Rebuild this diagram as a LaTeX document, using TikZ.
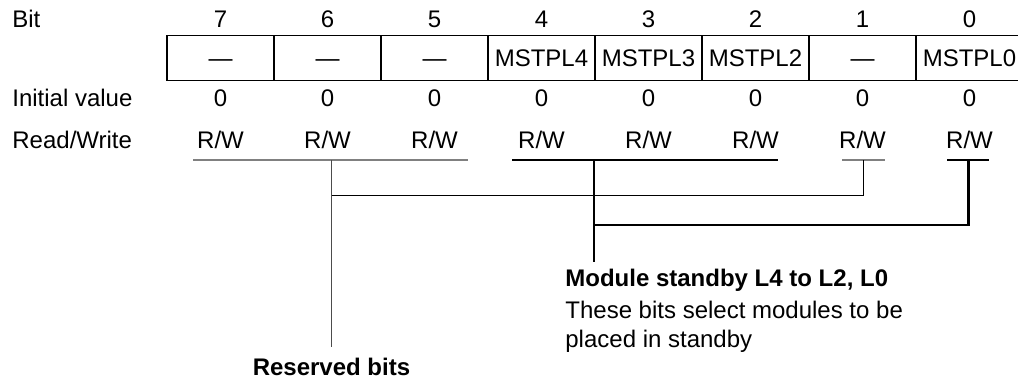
\documentclass[tikz,border=0pt]{standalone}
\usepackage{fontspec}
\setmainfont{Liberation Sans}
\usetikzlibrary{positioning}

\begin{document}
\begin{tikzpicture}[
		x=0.5pt, y=-0.5pt,
		font=\fontsize{12}{14.5}\selectfont,
		cell/.style={draw, line width=0.7pt, minimum width=53.5pt, minimum height=22.5pt,
			inner sep=0pt, outer sep=0pt, text height=8.6pt, text depth=0pt},
		lbl/.style={inner sep=0pt, anchor=base},
		rowlbl/.style={inner sep=0pt, anchor=base west},
		ulgray/.style={draw=black!50, line width=0.8pt},
		ulthick/.style={line width=1.3pt},
		lnthin/.style={line width=0.5pt},
	]
		\clip (0,0) rectangle (1018,380);

		% row baselines
		\coordinate (rowbit) at (12,27);
		\coordinate (rowinit) at (12,106);
		\coordinate (rowrw) at (12,148);

		% row labels
		\node[rowlbl] (lbit) at (rowbit) {Bit};
		\node[rowlbl] (linit) at (rowinit) {Initial value};
		\node[rowlbl] (lrw) at (rowrw) {Read/Write};

		% register cells
		\node[cell] (c7) at (220.5,57.75) {---};
		\node[cell, right=0pt of c7] (c6) {---};
		\node[cell, right=0pt of c6] (c5) {---};
		\node[cell, right=0pt of c5] (c4) {MSTPL4};
		\node[cell, right=0pt of c4] (c3) {MSTPL3};
		\node[cell, right=0pt of c3] (c2) {MSTPL2};
		\node[cell, right=0pt of c2] (c1) {---};
		\node[cell, right=0pt of c1] (c0) {MSTPL0};

		% bit numbers
		\node[lbl] (b7) at (c7 |- rowbit) {7};
		\node[lbl] (b6) at (c6 |- rowbit) {6};
		\node[lbl] (b5) at (c5 |- rowbit) {5};
		\node[lbl] (b4) at (c4 |- rowbit) {4};
		\node[lbl] (b3) at (c3 |- rowbit) {3};
		\node[lbl] (b2) at (c2 |- rowbit) {2};
		\node[lbl] (b1) at (c1 |- rowbit) {1};
		\node[lbl] (b0) at (c0 |- rowbit) {0};

		% initial values
		\node[lbl] (i7) at (c7 |- rowinit) {0};
		\node[lbl] (i6) at (c6 |- rowinit) {0};
		\node[lbl] (i5) at (c5 |- rowinit) {0};
		\node[lbl] (i4) at (c4 |- rowinit) {0};
		\node[lbl] (i3) at (c3 |- rowinit) {0};
		\node[lbl] (i2) at (c2 |- rowinit) {0};
		\node[lbl] (i1) at (c1 |- rowinit) {0};
		\node[lbl] (i0) at (c0 |- rowinit) {0};

		% read/write
		\node[lbl] (rw7) at (c7 |- rowrw) {R/W};
		\node[lbl] (rw6) at (c6 |- rowrw) {R/W};
		\node[lbl] (rw5) at (c5 |- rowrw) {R/W};
		\node[lbl] (rw4) at (c4 |- rowrw) {R/W};
		\node[lbl] (rw3) at (c3 |- rowrw) {R/W};
		\node[lbl] (rw2) at (c2 |- rowrw) {R/W};
		\node[lbl] (rw1) at (c1 |- rowrw) {R/W};
		\node[lbl] (rw0) at (c0 |- rowrw) {R/W};

		% descriptions
		\node[lbl, font=\fontsize{12}{14.5}\selectfont\bfseries] (res) at (331.5,375) {Reserved bits};
		\node[rowlbl, font=\fontsize{12}{14.5}\selectfont\bfseries] (mod) at (565,286) {Module standby L4 to L2, L0};
		\node[inner sep=0pt, anchor=north west, align=left] (moddesc) at (565,300.6)
			{These bits select modules to be\\placed in standby};

		% underlines
		\coordinate (u7) at (193,160);   \coordinate (u5) at (468,160);
		\coordinate (u4) at (512,160);   \coordinate (u2) at (778,160);
		\coordinate (u1a) at (842,160);  \coordinate (u1b) at (885,160);
		\coordinate (u0a) at (947,160);  \coordinate (u0b) at (989,160);
		\coordinate (u1) at (863.5,160); \coordinate (u0) at (968.5,160);
		\coordinate (jres) at (331.5,195);
		\coordinate (jmod) at (594,225);
		\draw[ulgray] (u7) -- (u5);
		\draw[ulgray] (u1a) -- (u1b);
		\draw[ulthick] (u4) -- (u2);
		\draw[ulthick] (u0a) -- (u0b);

		% reserved bits
		\draw[black!70, line width=0.7pt] (res.north |- u7) -- ([yshift=5pt]res.north);
		\draw[lnthin] (jres) -| (u1);

		% module standby
		\draw[ulthick] (jmod |- u4) -- ([yshift=3pt]mod.north -| jmod);
		\draw[ulthick] (jmod) -| (u0);
	\end{tikzpicture}
\end{document}
